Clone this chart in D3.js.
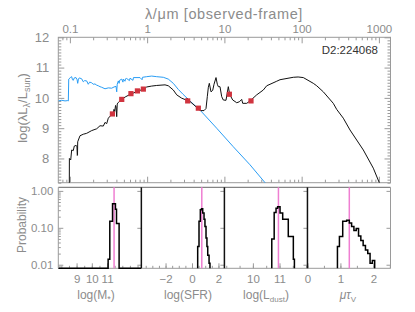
<!DOCTYPE html>
<html>
<head>
<meta charset="utf-8">
<script src="https://cdn.jsdelivr.net/npm/d3@7"></script>
<style>
body { margin: 0; background: #fff; }
text { font-family: "Liberation Sans", Arial, sans-serif; }
</style>
</head>
<body>
<div id="chart"></div>
<script>
var width = 415;
var height = 312;
var sedLeft = 58.3, sedRight = 390.5, sedTop = 37.3, sedBottom = 182.7;
var histTop = 187.3, histBottom = 268.3;
var gray = '#8c8c8c';
var axisGray = '#9a9a9a';

// unattenuated stellar spectrum (lambda in micron, log lambda L)
var stellarSed = [
	[0.0708, 9.90], [0.0783, 9.92], [0.0865, 9.90], [0.0938, 9.91], [0.0955, 9.90],
	[0.0966, 10.62], [0.1025, 10.68], [0.1055, 10.70], [0.108, 10.60], [0.1107, 10.58],
	[0.114, 10.66], [0.120, 10.67], [0.124, 10.60], [0.1262, 10.48], [0.129, 10.62],
	[0.1324, 10.66], [0.1422, 10.63], [0.1492, 10.53], [0.155, 10.57], [0.165, 10.56],
	[0.173, 10.45], [0.18, 10.52], [0.1914, 10.50], [0.2, 10.45], [0.2113, 10.46],
	[0.2223, 10.42], [0.2333, 10.40], [0.2453, 10.37], [0.2582, 10.35], [0.2847, 10.30],
	[0.3143, 10.33], [0.3477, 10.32], [0.3725, 10.36], [0.3955, 10.38], [0.4037, 10.20],
	[0.41, 10.45], [0.4236, 10.56], [0.434, 10.48], [0.44, 10.58], [0.469, 10.62],
	[0.486, 10.52], [0.492, 10.62], [0.517, 10.55], [0.525, 10.63], [0.5435, 10.64],
	[0.59, 10.57], [0.60, 10.65], [0.656, 10.58], [0.665, 10.67], [0.809, 10.67],
	[0.86, 10.60], [0.87, 10.68], [0.9866, 10.70], [1.145, 10.72], [1.33, 10.70],
	[1.619, 10.68], [1.879, 10.62], [2.181, 10.48], [2.53, 10.28], [2.886, 10.13],
	[3.41, 9.95], [4.38, 9.69], [4.83, 9.60], [7.94, 9.00], [13.0, 8.39],
	[21.47, 7.79], [33.6, 7.20], [40, 6.95]
];

// attenuated stellar + dust emission model
var totalSed = [
	[0.0983, 7.0], [0.0985, 8.0], [0.1025, 7.95], [0.1055, 8.28], [0.1107, 8.26],
	[0.114, 8.41], [0.120, 8.43], [0.1235, 8.40], [0.1247, 8.10], [0.1255, 8.12],
	[0.1262, 8.55], [0.1352, 8.75], [0.1492, 8.80], [0.165, 8.83], [0.1914, 8.92],
	[0.2223, 8.98], [0.2453, 9.08], [0.271, 9.07], [0.2847, 9.19], [0.2997, 9.15],
	[0.3143, 9.33], [0.3477, 9.45], [0.3646, 9.48], [0.372, 9.62], [0.38, 9.55],
	[0.39, 9.75], [0.3955, 9.70], [0.4037, 9.38], [0.41, 9.80], [0.4236, 9.85],
	[0.469, 9.95], [0.52, 10.03], [0.618, 10.13], [0.6622, 10.16], [0.755, 10.22],
	[0.809, 10.25], [0.892, 10.28], [0.9866, 10.36], [1.145, 10.39], [1.33, 10.41],
	[1.703, 10.43], [1.879, 10.40], [2.181, 10.26], [2.414, 10.10], [2.8, 9.99],
	[3.2, 9.93], [3.3, 9.99], [3.35, 9.92], [3.59, 9.88], [4.51, 9.66],
	[4.83, 9.58], [5.45, 9.58], [5.78, 9.65], [6.01, 10.04], [6.2, 10.35],
	[6.38, 10.48], [6.71, 10.20], [7.06, 10.25], [7.34, 10.45], [7.79, 10.67],
	[8.10, 10.45], [8.35, 10.37], [8.77, 10.37], [9.23, 10.04], [9.68, 9.93],
	[10.49, 9.92], [11.24, 10.37], [11.58, 10.18], [12.07, 10.05], [12.82, 9.93],
	[13.72, 9.88], [14.43, 9.84], [15.6, 9.87], [16.75, 9.95], [17.26, 9.82],
	[19.45, 9.82], [21.47, 9.90], [26.2, 10.10], [31.9, 10.26], [35.3, 10.40],
	[47.6, 10.55], [52.5, 10.60], [78, 10.68], [90, 10.69], [105.1, 10.67],
	[141.6, 10.48], [156.7, 10.40], [190.7, 10.20], [256.8, 9.82], [284.3, 9.62],
	[346.1, 9.33], [422.7, 8.94], [628.6, 8.28], [846.3, 7.68], [1012, 7.20],
	[1100, 6.90]
];

// observed photometry (u g r i z W1 W2 W3 W4)
var obsWave = [0.355, 0.469, 0.617, 0.748, 0.893, 3.35, 4.6, 11.6, 22.1];
var obsLum = [9.47, 9.95, 10.14, 10.23, 10.29, 9.90, 9.66, 10.12, 9.90];

var topTicks = [0.1, 1, 10, 100, 1000];
var sedYTicks = [8, 9, 10, 11, 12];
var probTicks = [1, 0.1, 0.01];
var probLabels = ['1.00', '0.10', '0.01'];

// likelihood distributions
var massEdges = [7.8, 11.07, 11.18, 11.36, 11.55, 11.62, 11.79, 13.25];
var massProb = [0, 0.014, 0.15, 0.45, 0.32, 0.13, 0];
var sfrEdges = [0.43, 0.53, 0.63, 0.72, 0.81, 0.91, 0.98, 1.06, 1.13, 1.19, 1.29, 1.36];
var sfrProb = [0.031, 0.15, 0.31, 0.33, 0.25, 0.17, 0.108, 0.053, 0.031, 0.018, 0.011];
var ldustEdges = [10.71, 10.80, 10.87, 10.93, 11.02, 11.12, 11.33, 11.52, 11.56];
var ldustProb = [0.05, 0.26, 0.34, 0.37, 0.25, 0.17, 0.058, 0.014];
var tauEdges = [0.91, 0.97, 1.07, 1.19, 1.27, 1.34, 1.41, 1.48, 1.55, 1.62, 1.69, 1.76, 1.83, 1.90, 1.97, 2.04];
var tauProb = [0.031, 0.058, 0.15, 0.16, 0.134, 0.108, 0.085, 0.095, 0.06, 0.045, 0.033, 0.025, 0.02, 0.011, 0.013];
var medians = [11.46, 0.74, 10.96, 1.27];

var panels = [
	{domain: [7.8, 13.25], ticks: [9, 10, 11], labels: ['9', '10', '11'], edges: massEdges, prob: massProb},
	{domain: [-3.83, 2.45], ticks: [-2, 0, 2], labels: ['\u22122', '0', '2'], edges: sfrEdges, prob: sfrProb},
	{domain: [8.93, 12.05], ticks: [10, 11], labels: ['10', '11'], edges: ldustEdges, prob: ldustProb},
	{domain: [0, 2.52], ticks: [0, 1, 2], labels: ['0', '1', '2'], edges: tauEdges, prob: tauProb}
];

var svg = d3.select('#chart')
	.append('svg')
	.attr('width', width)
	.attr('height', height);

var x = d3.scaleLog().domain([0.0708, 1413]).range([sedLeft, sedRight]);
var y = d3.scaleLinear().domain([7.2, 12]).range([sedBottom, sedTop]);

var styleAxis = function(g){
	g.select('.domain').remove();
	g.selectAll('line').attr('stroke', axisGray);
	g.selectAll('text').attr('fill', gray).style('font-size', '11.5px');
};

var logMinors = function(scale){
	var d = scale.domain();
	var out = [];
	for(var e = -3; e <= 4; e++){
		for(var m = 2; m <= 9; m++){
			var v = m * Math.pow(10, e);
			if(v > Math.min(d[0], d[1]) && v < Math.max(d[0], d[1])){
				out.push(v);
			}
		}
	}
	return out;
};

var drawSed = function(){
	svg.append('clipPath').attr('id', 'sedClip')
		.append('rect')
		.attr('x', sedLeft).attr('y', sedTop)
		.attr('width', sedRight - sedLeft).attr('height', sedBottom - sedTop);

	// top axis (labels) and bottom axis
	svg.append('g').attr('transform', 'translate(0,' + sedTop + ')')
		.call(d3.axisTop(x).tickValues(topTicks).tickFormat(d3.format('')).tickSizeInner(-6).tickSizeOuter(0).tickPadding(4))
		.call(styleAxis);
	svg.append('g').attr('transform', 'translate(0,' + sedTop + ')')
		.call(d3.axisTop(x).tickValues(logMinors(x)).tickFormat('').tickSizeInner(-3).tickSizeOuter(0))
		.call(styleAxis);
	svg.append('g').attr('transform', 'translate(0,' + sedBottom + ')')
		.call(d3.axisBottom(x).tickValues(topTicks).tickFormat('').tickSizeInner(-6).tickSizeOuter(0))
		.call(styleAxis);
	svg.append('g').attr('transform', 'translate(0,' + sedBottom + ')')
		.call(d3.axisBottom(x).tickValues(logMinors(x)).tickFormat('').tickSizeInner(-3).tickSizeOuter(0))
		.call(styleAxis);

	var yMinor = d3.range(72, 121).map(function(d){ return d / 10; }).filter(function(d){ return d % 1 !== 0; });
	svg.append('g').attr('transform', 'translate(' + sedLeft + ',0)')
		.call(d3.axisLeft(y).tickValues(sedYTicks).tickFormat(d3.format('d')).tickSizeInner(-6).tickSizeOuter(0).tickPadding(9))
		.call(styleAxis)
		.selectAll('text').style('font-size', '13px');
	svg.append('g').attr('transform', 'translate(' + sedLeft + ',0)')
		.call(d3.axisLeft(y).tickValues(yMinor).tickFormat('').tickSizeInner(-3).tickSizeOuter(0))
		.call(styleAxis);
	svg.append('g').attr('transform', 'translate(' + sedRight + ',0)')
		.call(d3.axisRight(y).tickValues(sedYTicks).tickFormat('').tickSizeInner(-6).tickSizeOuter(0))
		.call(styleAxis);
	svg.append('g').attr('transform', 'translate(' + sedRight + ',0)')
		.call(d3.axisRight(y).tickValues(yMinor).tickFormat('').tickSizeInner(-3).tickSizeOuter(0))
		.call(styleAxis);

	svg.append('rect')
		.attr('x', sedLeft).attr('y', sedTop)
		.attr('width', sedRight - sedLeft).attr('height', sedBottom - sedTop)
		.attr('fill', 'none').attr('stroke', axisGray).attr('stroke-width', 1);

	var line = d3.line()
		.x(function(d){ return x(d[0]); })
		.y(function(d){ return y(d[1]); });

	var plot = svg.append('g').attr('clip-path', 'url(#sedClip)');

	plot.append('path')
		.datum(stellarSed)
		.attr('d', line)
		.attr('fill', 'none')
		.attr('stroke', '#2a9df4')
		.attr('stroke-width', 1);

	plot.append('path')
		.datum(totalSed)
		.attr('d', line)
		.attr('fill', 'none')
		.attr('stroke', '#111')
		.attr('stroke-width', 1);

	plot.selectAll('.obs')
		.data(obsWave)
		.enter()
		.append('rect')
		.attr('class', 'obs')
		.attr('x', function(d){ return x(d) - 2.6; })
		.attr('y', function(d, i){ return y(obsLum[i]) - 2.6; })
		.attr('width', 5.2)
		.attr('height', 5.2)
		.attr('fill', '#d0343f');

	svg.append('text')
		.attr('x', 378).attr('y', 54)
		.attr('text-anchor', 'end')
		.attr('fill', '#333')
		.style('font-size', '11.5px')
		.text('D2:224068');

	svg.append('text')
		.attr('x', 224).attr('y', 19)
		.attr('text-anchor', 'middle')
		.attr('fill', gray)
		.style('font-size', '14.5px')
		.style('letter-spacing', '0.6px')
		.text('\u03bb/\u03bcm [observed-frame]');

	var yt = svg.append('text')
		.attr('transform', 'translate(27,108) rotate(-90)')
		.attr('text-anchor', 'middle')
		.attr('fill', gray)
		.style('font-size', '13px');
	yt.append('tspan').text('log(\u03bbL');
	yt.append('tspan').attr('dy', 3).style('font-size', '9px').text('\u03bb');
	yt.append('tspan').attr('dy', -3).text('/L');
	yt.append('tspan').attr('dy', 3).style('font-size', '9px').text('sun');
	yt.append('tspan').attr('dy', -3).text(')');
};

var drawHistograms = function(){
	var panelWidth = (sedRight - sedLeft) / panels.length;
	var py = d3.scaleLog().domain([0.008, 1.25]).range([histBottom, histTop]);
	var probMinor = logMinors(py);

	panels.forEach(function(p, k){
		var x0 = sedLeft + panelWidth * k;
		var x1 = x0 + panelWidth;
		var px = d3.scaleLinear().domain(p.domain).range([x0, x1]);
		var minor = d3.range(Math.ceil(p.domain[0] * 2), Math.floor(p.domain[1] * 2) + 1).map(function(d){ return d / 2; });

		svg.append('g').attr('transform', 'translate(0,' + histBottom + ')')
			.call(d3.axisBottom(px).tickValues(p.ticks).tickFormat(function(d, i){ return p.labels[i]; }).tickSizeInner(-5).tickSizeOuter(0).tickPadding(7))
			.call(styleAxis);
		svg.append('g').attr('transform', 'translate(0,' + histBottom + ')')
			.call(d3.axisBottom(px).tickValues(minor).tickFormat('').tickSizeInner(-2.5).tickSizeOuter(0))
			.call(styleAxis);

		if(k === 0){
			svg.append('g').attr('transform', 'translate(' + x0 + ',0)')
				.call(d3.axisLeft(py).tickValues(probTicks).tickFormat(function(d, i){ return probLabels[i]; }).tickSizeInner(-5).tickSizeOuter(0).tickPadding(5))
				.call(styleAxis);
			svg.append('g').attr('transform', 'translate(' + x0 + ',0)')
				.call(d3.axisLeft(py).tickValues(probMinor).tickFormat('').tickSizeInner(-2.5).tickSizeOuter(0))
				.call(styleAxis);
		}
		svg.append('g').attr('transform', 'translate(' + x1 + ',0)')
			.call(d3.axisRight(py).tickValues(probTicks).tickFormat('').tickSizeInner(-4).tickSizeOuter(0))
			.call(styleAxis);

		svg.append('line')
			.attr('x1', x0).attr('x2', x1)
			.attr('y1', histTop).attr('y2', histTop)
			.attr('stroke', '#666').attr('stroke-width', 1);
		svg.append('line')
			.attr('x1', x0).attr('x2', x1)
			.attr('y1', histBottom).attr('y2', histBottom)
			.attr('stroke', axisGray).attr('stroke-width', 1);

		// median line
		svg.append('line')
			.attr('x1', px(medians[k])).attr('x2', px(medians[k]))
			.attr('y1', histTop).attr('y2', histBottom)
			.attr('stroke', '#ef7fd2').attr('stroke-width', 1.5);

		// step outline
		var pts = [[p.edges[0], 0]];
		for(var i = 0; i < p.prob.length; i++){
			pts.push([p.edges[i], p.prob[i]]);
			pts.push([p.edges[i + 1], p.prob[i]]);
		}
		pts.push([p.edges[p.edges.length - 1], 0]);

		svg.append('path')
			.datum(pts)
			.attr('d', d3.line()
				.x(function(d){ return px(d[0]); })
				.y(function(d){ return d[1] > 0 ? py(d[1]) : histBottom; }))
			.attr('fill', 'none')
			.attr('stroke', '#000')
			.attr('stroke-width', 1.5);
	});

	// left and right frame, panel dividers
	svg.append('line')
		.attr('x1', sedLeft).attr('x2', sedLeft).attr('y1', histTop).attr('y2', histBottom)
		.attr('stroke', axisGray);
	svg.append('line')
		.attr('x1', sedRight).attr('x2', sedRight).attr('y1', histTop).attr('y2', histBottom)
		.attr('stroke', axisGray);
	for(var k = 1; k < panels.length; k++){
		svg.append('line')
			.attr('x1', sedLeft + panelWidth * k).attr('x2', sedLeft + panelWidth * k)
			.attr('y1', histTop).attr('y2', histBottom)
			.attr('stroke', '#111').attr('stroke-width', 1.5);
	}

	var titleY = 299;
	var centers = [96, 188, 266, 348];
	var t;
	t = svg.append('text').attr('x', centers[0]).attr('y', titleY);
	t.append('tspan').text('log(M');
	t.append('tspan').attr('dy', 3).style('font-size', '9px').text('*');
	t.append('tspan').attr('dy', -3).text(')');

	svg.append('text').attr('x', centers[1]).attr('y', titleY).text('log(SFR)');

	t = svg.append('text').attr('x', centers[2]).attr('y', titleY);
	t.append('tspan').text('log(L');
	t.append('tspan').attr('dy', 3).style('font-size', '8px').text('dust');
	t.append('tspan').attr('dy', -3).text(')');

	t = svg.append('text').attr('x', centers[3]).attr('y', titleY);
	t.append('tspan').style('font-style', 'italic').text('\u03bc\u03c4');
	t.append('tspan').attr('dy', 3).style('font-size', '8px').text('V');

	svg.selectAll('text').filter(function(){ return this.getAttribute('y') == titleY; })
		.attr('text-anchor', 'middle')
		.attr('fill', gray)
		.style('font-size', '12px');

	svg.append('text')
		.attr('transform', 'translate(26,225) rotate(-90)')
		.attr('text-anchor', 'middle')
		.attr('fill', gray)
		.style('font-size', '12px')
		.text('Probability');
};

drawSed();
drawHistograms();
</script>
</body>
</html>
